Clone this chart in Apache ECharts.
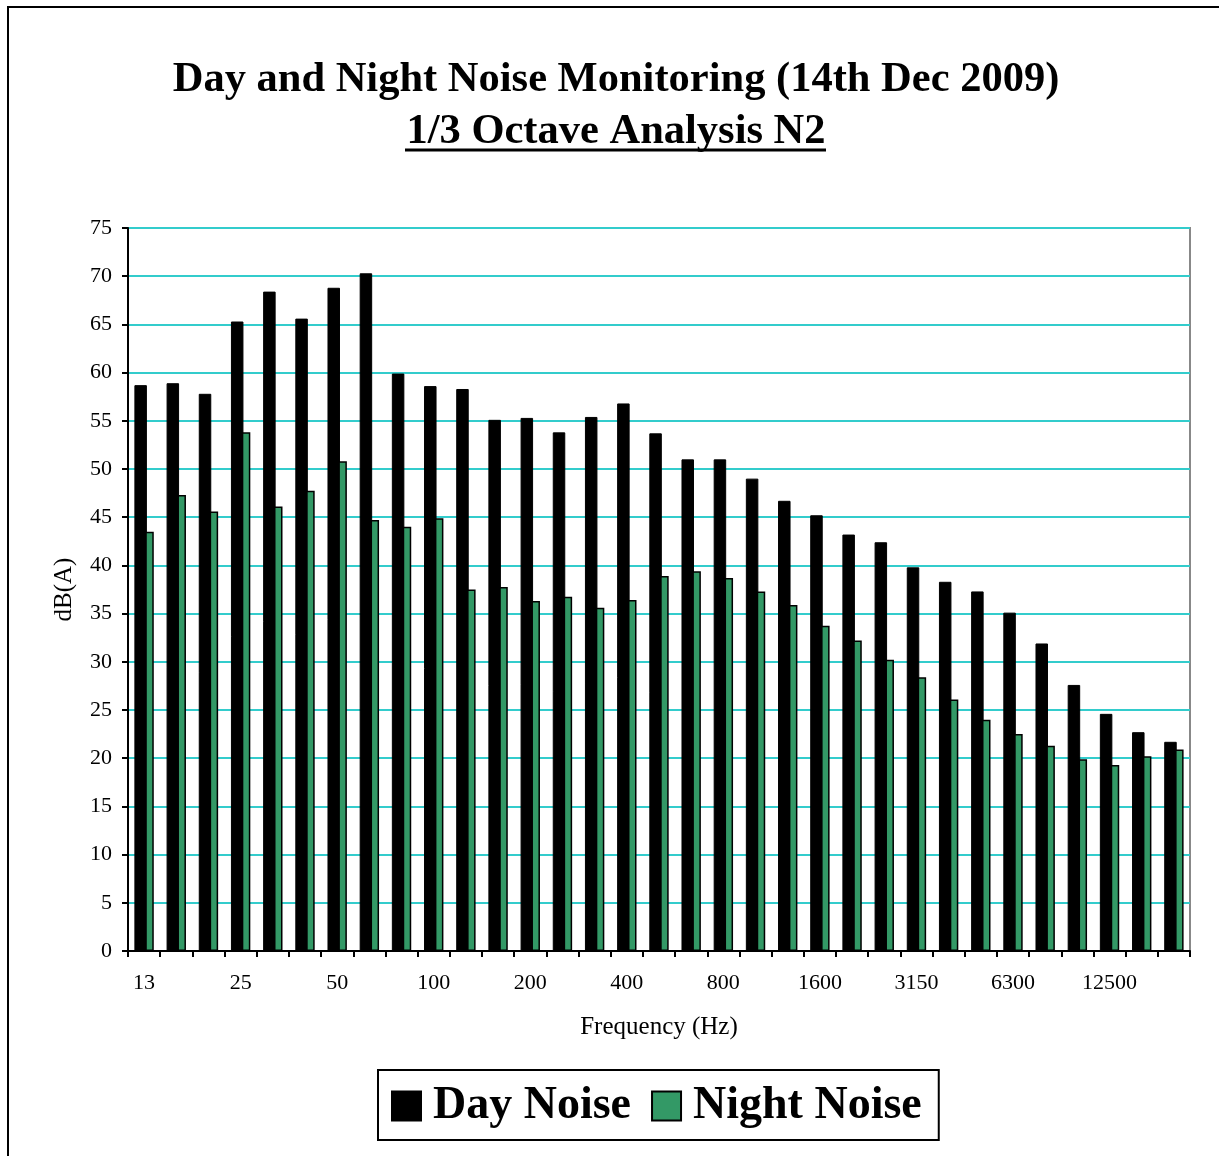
<!DOCTYPE html>
<html>
<head>
<meta charset="utf-8">
<script src="https://cdn.jsdelivr.net/npm/echarts@6/dist/echarts.min.js"></script>
<style>html,body{margin:0;padding:0;background:#fff;}#c{width:1219px;height:1156px;}</style>
</head>
<body>
<div id="c"></div>
<script>
const categories = ["13","16","20","25","32","40","50","63","80","100","125","160","200","250","315","400","500","630","800","1000","1250","1600","2000","2500","3150","4000","5000","6300","8000","10000","12500","16000","20000"];
const dayNoise = [58.7,58.9,57.8,65.3,68.4,65.6,68.8,70.3,59.9,58.6,58.3,55.1,55.3,53.8,55.4,56.8,53.7,51.0,51.0,49.0,46.7,45.2,43.2,42.4,39.8,38.3,37.3,35.1,31.9,27.6,24.6,22.7,21.7];
const nightNoise = [43.5,47.3,45.6,53.8,46.1,47.75,50.8,44.7,44.0,44.9,37.5,37.75,36.3,36.75,35.6,36.4,38.9,39.4,38.7,37.3,35.9,33.75,32.2,30.2,28.4,26.1,24.0,22.5,21.3,19.9,19.3,20.2,20.9];
const yTicks = {min: 0, max: 75, interval: 5};

const font = '"Liberation Serif", "Times New Roman", serif';
const chart = echarts.init(document.getElementById('c'), null, {renderer: 'canvas'});
chart.setOption({
  backgroundColor: '#fff',
  animation: false,
  title: [
    {text: 'Day and Night Noise Monitoring (14th Dec 2009)', left: 611, textAlign: 'center', top: 54,
     textStyle: {fontFamily: font, fontSize: 42.5, fontWeight: 'bold', color: '#000'}},
    {text: '1/3 Octave Analysis N2', left: 611, textAlign: 'center', top: 106,
     textStyle: {fontFamily: font, fontSize: 42.5, fontWeight: 'bold', color: '#000'}}
  ],
  graphic: [
    {type: 'rect', shape: {x: 8, y: 7, width: 1400, height: 1400}, style: {fill: 'none', stroke: '#000', lineWidth: 2}, z: -1},
    {type: 'line', shape: {x1: 405, y1: 150, x2: 826, y2: 150}, style: {stroke: '#000', lineWidth: 3}}
  ],
  legend: {
    left: 378, top: 1070,
    padding: [13, 17, 11, 13],
    borderColor: '#000', borderWidth: 2,
    itemWidth: 29, itemHeight: 29, itemGap: 20,
    icon: 'rect',
    textStyle: {fontFamily: font, fontSize: 46, fontWeight: 'bold', color: '#000', padding: [0,0,0,7]},
    data: ['Day Noise', 'Night Noise']
  },
  grid: {left: 128, top: 228, right: 29, bottom: 205, show: true, borderColor: '#888', borderWidth: 2, backgroundColor: '#fff'},
  xAxis: {
    type: 'category', data: categories,
    name: 'Frequency (Hz)', nameLocation: 'middle', nameGap: 64,
    nameTextStyle: {fontFamily: font, fontSize: 25, color: '#000'},
    axisLine: {show: true, lineStyle: {color: '#000', width: 2}},
    axisTick: {show: true, interval: 0, length: 6, lineStyle: {color: '#000', width: 2}},
    axisLabel: {interval: 2, fontFamily: font, fontSize: 22, color: '#000', margin: 21},
    splitLine: {show: false}
  },
  yAxis: {
    type: 'value', min: yTicks.min, max: yTicks.max, interval: yTicks.interval,
    name: 'dB(A)', nameLocation: 'middle', nameGap: 51, nameRotate: 90,
    nameTextStyle: {fontFamily: font, fontSize: 25, color: '#000'},
    axisLine: {show: true, lineStyle: {color: '#000', width: 2}},
    axisTick: {show: true, length: 6, lineStyle: {color: '#000', width: 2}},
    axisLabel: {fontFamily: font, fontSize: 22, color: '#000', margin: 16},
    splitLine: {show: true, lineStyle: {color: '#33CCCC', width: 2}}
  },
  series: [
    {name: 'Day Noise', type: 'bar', data: dayNoise, barWidth: 12.5, barGap: '-13%',
     itemStyle: {color: '#000', borderColor: '#000', borderWidth: 1}},
    {name: 'Night Noise', type: 'bar', data: nightNoise, barWidth: 8.5,
     itemStyle: {color: '#339966', borderColor: '#000', borderWidth: 1.5}}
  ]
});
</script>
</body>
</html>
